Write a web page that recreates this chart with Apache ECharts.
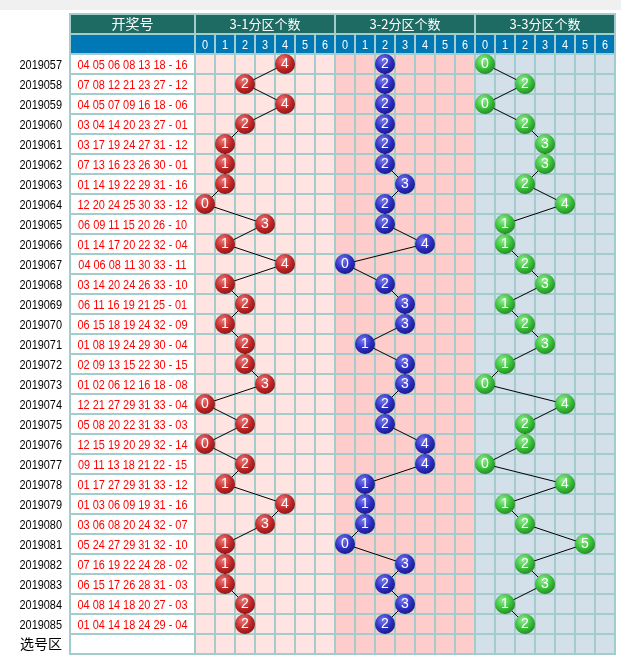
<!DOCTYPE html>
<html><head><meta charset="utf-8">
<script src="https://cdn.jsdelivr.net/npm/echarts@6/dist/echarts.min.js"></script>
<style>html,body{margin:0;padding:0;background:#fff}#c{width:621px;height:660px}</style>
</head><body><div id="c"></div>
<script>
const periods = ['2019057','2019058','2019059','2019060','2019061','2019062','2019063','2019064','2019065','2019066','2019067','2019068','2019069','2019070','2019071','2019072','2019073','2019074','2019075','2019076','2019077','2019078','2019079','2019080','2019081','2019082','2019083','2019084','2019085'];
const drawNumbers = [
'04 05 06 08 13 18 - 16','07 08 12 21 23 27 - 12','04 05 07 09 16 18 - 06','03 04 14 20 23 27 - 01',
'03 17 19 24 27 31 - 12','07 13 16 23 26 30 - 01','01 14 19 22 29 31 - 16','12 20 24 25 30 33 - 12',
'06 09 11 15 20 26 - 10','01 14 17 20 22 32 - 04','04 06 08 11 30 33 - 11','03 14 20 24 26 33 - 10',
'06 11 16 19 21 25 - 01','06 15 18 19 24 32 - 09','01 08 19 24 29 30 - 04','02 09 13 15 22 30 - 15',
'01 02 06 12 16 18 - 08','12 21 27 29 31 33 - 04','05 08 20 22 31 33 - 03','12 15 19 20 29 32 - 14',
'09 11 13 18 21 22 - 15','01 17 27 29 31 33 - 12','01 03 06 09 19 31 - 16','03 06 08 20 24 32 - 07',
'05 24 27 29 31 32 - 10','07 16 19 22 24 28 - 02','06 15 17 26 28 31 - 03','04 08 14 18 20 27 - 03',
'01 04 14 18 24 29 - 04'];
const zone1Counts = [4,2,4,2,1,1,1,0,3,1,4,1,2,1,2,2,3,0,2,0,2,1,4,3,1,1,1,2,2];
const zone2Counts = [2,2,2,2,2,2,3,2,2,4,0,2,3,3,1,3,3,2,2,4,4,1,1,1,0,3,2,3,2];
const zone3Counts = [0,2,0,2,3,3,2,4,1,1,2,3,1,2,3,1,0,4,2,2,0,4,1,2,5,2,3,1,2];
const zoneTitles = ['3-1分区个数','3-2分区个数','3-3分区个数'];
const digitLabels = ['0','1','2','3','4','5','6'];
const numberTitle = '开奖号';
const pickRowLabel = '选号区';

const HEAD_ROWS = 2;
const rowLabels = ['', ''].concat(periods, [pickRowLabel]);
const colLabels = [];
zoneTitles.forEach((t, z) => digitLabels.forEach(d => colLabels.push(z + '-' + d)));
const nDigits = digitLabels.length;

const LINE = '#a3cccc';
const TEAL = '#1d6b63';
const BLUE = '#0078b5';
const zoneFill = ['#ffe4e1', '#ffcccc', '#d3dfe9'];
const FONT = 'Liberation Sans, Arial, sans-serif';
const CJK = 'Noto Sans CJK SC, sans-serif';

function ball(c0, c1, c2) {
  return {type: 'radial', x: 0.4, y: 0.32, r: 0.72,
    colorStops: [{offset: 0, color: c0}, {offset: 0.55, color: c1}, {offset: 1, color: c2}]};
}
const ballColors = [ball('#f07a7a', '#c42a2a', '#8a1212'), ball('#7a7af0', '#3030c4', '#17177f'), ball('#94ee94', '#3cc23c', '#1f861f')];
const zoneSeries = [zone1Counts, zone2Counts, zone3Counts];

const leftData = rowLabels.map((_, r) => [0, r]);
const rightData = [];
for (let r = 0; r < rowLabels.length; r++) for (let c = 0; c < colLabels.length; c++) rightData.push([c, r]);

function condensedText(x, y, text, opts) {
  return {type: 'text', x: x, y: y, scaleX: opts.scaleX || 0.84, z2: 5,
    style: {text: text, fill: opts.color, font: opts.font, align: opts.align || 'center', verticalAlign: 'middle'}};
}

const option = {
  animation: false,
  backgroundColor: '#fff',
  graphic: [{type: 'rect', shape: {x: 0, y: 0, width: 621, height: 10}, style: {fill: '#f0f0f0'}, silent: true}],
  grid: [
    {left: 70, top: 14, width: 125, height: 640},
    {left: 195, top: 14, width: 420, height: 640}
  ],
  xAxis: [
    {gridIndex: 0, type: 'category', data: [numberTitle], show: false},
    {gridIndex: 1, type: 'category', data: colLabels, show: false}
  ],
  yAxis: [
    {gridIndex: 0, type: 'category', data: rowLabels, inverse: true, show: false},
    {gridIndex: 1, type: 'category', data: rowLabels, inverse: true, show: false}
  ],
  series: [
    {
      type: 'custom', xAxisIndex: 0, yAxisIndex: 0, clip: false, z: 1, silent: true,
      data: leftData,
      renderItem: function (params, api) {
        const r = api.value(1);
        const p = api.coord([0, r]);
        const s = api.size([1, 1]);
        const x0 = p[0] - s[0] / 2, y0 = p[1] - s[1] / 2;
        const fill = r === 0 ? TEAL : (r === 1 ? BLUE : '#fff');
        const ch = [{type: 'rect', shape: {x: x0, y: y0, width: s[0], height: s[1]}, style: {fill: fill, stroke: LINE, lineWidth: 2}}];
        if (r === 0) ch.push({type: 'text', x: p[0], y: p[1], z2: 5, style: {text: numberTitle, fill: '#fff', font: '14px ' + CJK, align: 'center', verticalAlign: 'middle'}});
        if (r >= HEAD_ROWS && r < HEAD_ROWS + periods.length) {
          ch.push(condensedText(p[0], p[1] + 1, drawNumbers[r - HEAD_ROWS], {color: '#ff0000', font: '13px ' + FONT}));
          ch.push(condensedText(x0 - 8, p[1] + 1, periods[r - HEAD_ROWS], {color: '#000', font: '13px ' + FONT, align: 'right'}));
        }
        if (r === HEAD_ROWS + periods.length) {
          ch.push({type: 'text', x: x0 - 8, y: p[1], style: {text: pickRowLabel, fill: '#000', font: '14px ' + CJK, align: 'right', verticalAlign: 'middle'}});
        }
        return {type: 'group', children: ch};
      }
    },
    {
      type: 'custom', xAxisIndex: 1, yAxisIndex: 1, clip: false, z: 1, silent: true,
      data: rightData,
      renderItem: function (params, api) {
        const c = api.value(0), r = api.value(1);
        const p = api.coord([c, r]);
        const s = api.size([1, 1]);
        const x0 = p[0] - s[0] / 2, y0 = p[1] - s[1] / 2;
        const z = Math.floor(c / nDigits), d = c % nDigits;
        if (r === 0) {
          if (d !== 0) return null;
          const w = s[0] * nDigits;
          return {type: 'group', children: [
            {type: 'rect', shape: {x: x0, y: y0, width: w, height: s[1]}, style: {fill: TEAL, stroke: LINE, lineWidth: 2}},
            {type: 'text', x: x0 + w / 2, y: p[1], z2: 5, style: {text: zoneTitles[z], fill: '#fff', font: '13px ' + CJK, align: 'center', verticalAlign: 'middle'}}
          ]};
        }
        if (r === 1) {
          return {type: 'group', children: [
            {type: 'rect', shape: {x: x0, y: y0, width: s[0], height: s[1]}, style: {fill: BLUE, stroke: LINE, lineWidth: 2}},
            condensedText(p[0], p[1] + 1, digitLabels[d], {color: '#fff', font: '13px ' + FONT})
          ]};
        }
        return {type: 'rect', shape: {x: x0, y: y0, width: s[0], height: s[1]}, style: {fill: zoneFill[z], stroke: LINE, lineWidth: 2}};
      }
    }
  ].concat(zoneSeries.map((counts, z) => ({
    type: 'line', xAxisIndex: 1, yAxisIndex: 1, z: 3, silent: true,
    data: counts.map((v, i) => [z * nDigits + v, i + HEAD_ROWS]),
    lineStyle: {color: '#000', width: 1},
    symbol: 'circle', symbolSize: 20, showAllSymbol: true,
    itemStyle: {color: ballColors[z], borderColor: 'rgba(0,0,0,0.15)', borderWidth: 0.5},
    label: {show: true, position: 'inside', formatter: p => String(counts[p.dataIndex]), color: '#fff', fontSize: 14, fontFamily: FONT},
    labelLayout: {hideOverlap: false},
    emphasis: {disabled: true}
  })))
};

const chart = echarts.init(document.getElementById('c'), null, {renderer: 'canvas'});
chart.setOption(option);
</script>
</body></html>
